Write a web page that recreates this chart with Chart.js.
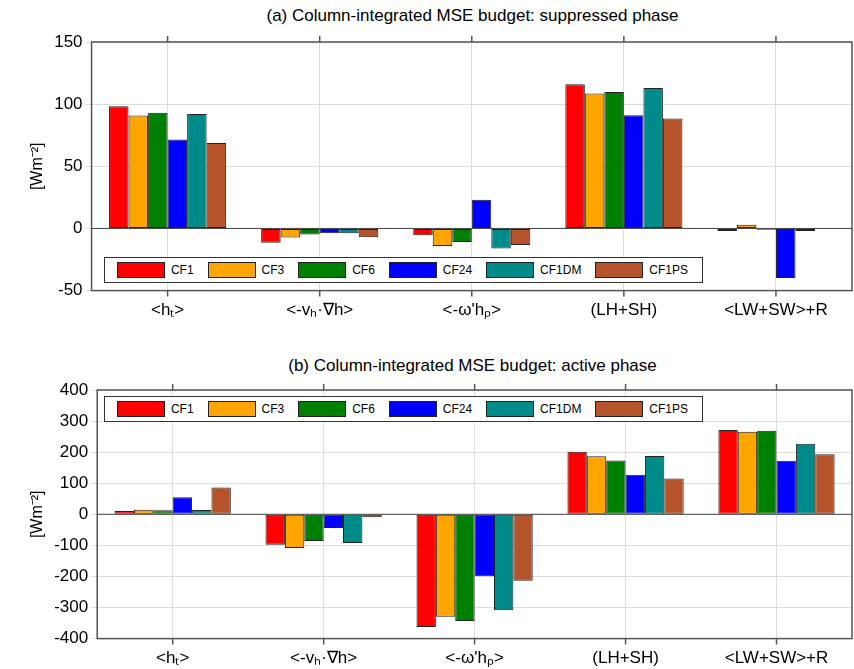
<!DOCTYPE html>
<html><head><meta charset="utf-8">
<script src="https://cdn.jsdelivr.net/npm/chart.js@4"></script>
<style>
body{margin:0;background:#fff;font-family:"Liberation Sans",Arial,sans-serif;overflow:hidden;}
.wrap{position:absolute;left:0;width:854px;}
.title{position:absolute;text-align:center;font-size:17px;left:93px;width:759px;}
.leg{position:absolute;border:1px solid #333;background:#fff;display:flex;align-items:center;font-size:12px;padding:0 6px;box-sizing:border-box;}
.leg span.sw{display:inline-block;width:47px;height:14px;border:1px solid #222;margin:0 6px 0 6px;}
</style></head><body>
<div class="title" style="top:6px">(a) Column-integrated MSE budget: suppressed phase</div>
<div class="wrap" style="top:0;height:331px"><canvas id="c1"></canvas></div>
<div class="title" style="top:356px">(b) Column-integrated MSE budget: active phase</div>
<div class="wrap" style="top:350px;height:329px"><canvas id="c2"></canvas></div>
<div class="leg" id="l1" style="left:104px;top:257px;width:599px;height:26px"></div>
<div class="leg" id="l2" style="left:104px;top:396px;width:599px;height:26px"></div>
<script>
const categories=["<hₜ>","<-vₕ·∇h>","<-ω'hₚ>","(LH+SH)","<LW+SW>+R"];
const seriesNames=["CF1","CF3","CF6","CF24","CF1DM","CF1PS"];
const colors=["#ff0000","#ffa500","#008000","#0000ff","#008b8b","#b5532a"];
// suppressed phase
const supCF1=[98.4,-11.6,-5.4,116,-2];
const supCF3=[90.9,-7.3,-14.2,108.6,3];
const supCF6=[93,-4.8,-11,109.7,-1];
const supCF24=[71.5,-3.8,23.1,91,-39.8];
const supCF1DM=[92,-3.8,-16.1,113,-2];
const supCF1PS=[68.8,-7,-13.4,88.4,-0.5];
// active phase
const actCF1=[10.7,-98,-363,201,271];
const actCF3=[15,-108.6,-330,187,265.6];
const actCF6=[13,-86,-343,173,269];
const actCF24=[55,-44,-199,127,172];
const actCF1DM=[14,-92.5,-309,188,227];
const actCF1PS=[86,-9.7,-214,115,193.5];

function legend(id){
  document.getElementById(id).innerHTML=seriesNames.map((n,i)=>`<span class="sw" style="background:${colors[i]}"></span><span style="margin-right:8px">${n}</span>`).join('');
}
legend('l1');legend('l2');
const frame={id:'frame',afterDraw(c){const a=c.chartArea,x=c.ctx;x.save();x.strokeStyle='#555';x.lineWidth=1.5;x.strokeRect(a.left,a.top,a.right-a.left,a.bottom-a.top);
 x.beginPath();c.scales.x.ticks.forEach((t,i)=>{const p=c.scales.x.getPixelForTick(i);x.moveTo(p,a.top);x.lineTo(p,a.top-6);x.moveTo(p,a.bottom);x.lineTo(p,a.bottom+6);});x.stroke();
 const z=c.scales.y.getPixelForValue(0);x.strokeStyle='#444';x.lineWidth=1;x.beginPath();x.moveTo(a.left,z);x.lineTo(a.right,z);x.stroke();x.restore();}};
function make(id,data,min,max,step,top){
  new Chart(document.getElementById(id),{type:'bar',
   data:{labels:categories,datasets:data.map((d,i)=>({label:seriesNames[i],data:d,backgroundColor:colors[i],borderColor:'#222',borderWidth:1,borderSkipped:false}))},
   options:{responsive:true,maintainAspectRatio:false,animation:false,
    layout:{padding:{top:top,right:2,left:24}},
    plugins:{legend:{display:false},tooltip:{enabled:false}},
    datasets:{bar:{categoryPercentage:0.77,barPercentage:1}},
    scales:{
     x:{grid:{color:'#ddd',drawTicks:false,offset:false},border:{display:false},ticks:{color:'#000',font:{size:17,family:'Liberation Sans'},padding:10}},
     y:{min:min,max:max,grid:{color:'#ddd',drawTicks:true,tickLength:6},border:{display:false},
        ticks:{stepSize:step,color:'#000',font:{size:17,family:'Liberation Sans'}},
        title:{display:true,text:'[Wm⁻²]',color:'#000',font:{size:16,family:'Liberation Sans'}}}}},
   plugins:[frame]});
}
make('c1',[supCF1,supCF3,supCF6,supCF24,supCF1DM,supCF1PS],-50,150,50,42);
make('c2',[actCF1,actCF3,actCF6,actCF24,actCF1DM,actCF1PS],-400,400,100,40);
</script></body></html>
